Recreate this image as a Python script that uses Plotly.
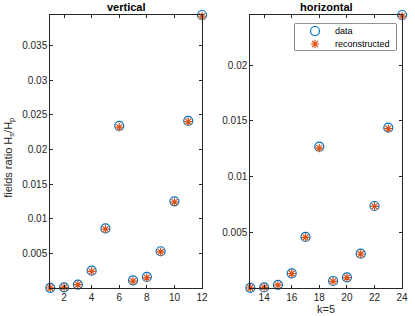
import plotly.graph_objects as go

# data
k_vert = [1, 2, 3, 4, 5, 6, 7, 8, 9, 10, 11, 12]
data_vert = [0.00003, 0.0001, 0.0005, 0.0025, 0.0086, 0.0234, 0.0011, 0.0016, 0.0053, 0.0125, 0.0241, 0.03938]
rec_vert = [0.00003, 0.0001, 0.00048, 0.0024, 0.0085, 0.0232, 0.0010, 0.0015, 0.0052, 0.0124, 0.0240, 0.0392]

k_horz = [13, 14, 15, 16, 17, 18, 19, 20, 21, 22, 23, 24]
data_horz = [0.00002, 0.00005, 0.00028, 0.00132, 0.00458, 0.01268, 0.00063, 0.00096, 0.00308, 0.00736, 0.01439, 0.0245]
rec_horz = [0.00002, 0.00005, 0.00026, 0.0013, 0.00455, 0.01255, 0.0006, 0.00094, 0.00305, 0.00733, 0.01430, 0.0244]

ticks_x_vert = [2, 4, 6, 8, 10, 12]
ticks_x_horz = [14, 16, 18, 20, 22, 24]
ticks_y_vert = [0.005, 0.01, 0.015, 0.02, 0.025, 0.03, 0.035]
ticks_y_horz = [0.005, 0.01, 0.015, 0.02]

legend_names = ["data", "reconstructed"]

BLUE = "#0072BD"
ORANGE = "#D95319"
AX = "#262626"
FONT = "Liberation Sans, Arial, sans-serif"

W, H = 415, 316

CIRCLE = dict(symbol="circle-open", size=9, color=BLUE, line=dict(width=1.2, color=BLUE))
STAR = dict(symbol="asterisk-open", size=7, color=ORANGE, line=dict(width=1.2, color=ORANGE))

fig = go.Figure()

def add(xs, ys, rs, xa, ya):
    fig.add_trace(go.Scatter(x=xs, y=ys, mode="markers", name=legend_names[0], showlegend=False,
                             xaxis=xa, yaxis=ya, cliponaxis=False, marker=CIRCLE))
    fig.add_trace(go.Scatter(x=xs, y=rs, mode="markers", name=legend_names[1], showlegend=False,
                             xaxis=xa, yaxis=ya, cliponaxis=False, marker=STAR))

add(k_vert, data_vert, rec_vert, "x", "y")
add(k_horz, data_horz, rec_horz, "x2", "y2")

# legend box (drawn on its own overlay axes, units = 0..1 within the box)
LX0, LX1, LY0, LY1 = 299, 402, 24, 50
fig.add_trace(go.Scatter(x=[0.2], y=[0.27], mode="markers", marker=CIRCLE, showlegend=False,
                         xaxis="x3", yaxis="y3", hoverinfo="skip", cliponaxis=False))
fig.add_trace(go.Scatter(x=[0.2], y=[0.77], mode="markers", marker=STAR, showlegend=False,
                         xaxis="x3", yaxis="y3", hoverinfo="skip", cliponaxis=False))

x1 = (51 / W, 205 / W)
x2 = (254 / W, 408 / W)
yd = (1 - 288 / H, 1 - 15 / H)

axcommon = dict(showgrid=False, zeroline=False, showline=True, linecolor=AX, linewidth=1,
                mirror="ticks", ticks="inside", ticklen=3, tickcolor=AX, tickwidth=1,
                tickfont=dict(family=FONT, size=10, color=AX))
hidden = dict(visible=False, showgrid=False, zeroline=False, fixedrange=True)

fig.update_layout(
    width=W, height=H, margin=dict(l=0, r=0, t=0, b=0),
    paper_bgcolor="white", plot_bgcolor="white",
    font=dict(family=FONT, size=10, color=AX),
    showlegend=False,
    xaxis=dict(domain=x1, range=[1, 12], tickvals=ticks_x_vert, anchor="y", **axcommon),
    yaxis=dict(domain=yd, range=[0, 0.03938], tickvals=ticks_y_vert, ticktext=[str(v) for v in ticks_y_vert],
               anchor="x", **axcommon),
    xaxis2=dict(domain=x2, range=[13, 24], tickvals=ticks_x_horz, anchor="y2", **axcommon),
    yaxis2=dict(domain=yd, range=[0, 0.0245], tickvals=ticks_y_horz, ticktext=[str(v) for v in ticks_y_horz],
                anchor="x2", **axcommon),
    xaxis3=dict(domain=(LX0 / W, LX1 / W), range=[0, 1], anchor="y3", **hidden),
    yaxis3=dict(domain=(1 - LY1 / H, 1 - LY0 / H), range=[1, 0], anchor="x3", **hidden),
    shapes=[dict(type="rect", xref="paper", yref="paper", x0=LX0 / W, x1=LX1 / W,
                 y0=1 - LY1 / H, y1=1 - LY0 / H, line=dict(color=AX, width=1), fillcolor="white",
                 layer="below")],
    annotations=[
        dict(text="<b>vertical</b>", x=(51 + 205) / 2 / W, y=1 - 7 / H, xref="paper", yref="paper",
             showarrow=False, font=dict(family=FONT, size=11, color="black"), xanchor="center", yanchor="middle"),
        dict(text="<b>horizontal</b>", x=(254 + 408) / 2 / W, y=1 - 7 / H, xref="paper", yref="paper",
             showarrow=False, font=dict(family=FONT, size=11, color="black"), xanchor="center", yanchor="middle"),
        dict(text="k=5", x=(254 + 408) / 2 / W, y=1 - 309 / H, xref="paper", yref="paper",
             showarrow=False, font=dict(family=FONT, size=11, color=AX), xanchor="center", yanchor="middle"),
        dict(text="fields ratio H<sub>s</sub>/H<sub>p</sub>", x=9 / W, y=1 - 158 / H, xref="paper", yref="paper",
             showarrow=False, textangle=-90, font=dict(family=FONT, size=11, color=AX),
             xanchor="center", yanchor="middle"),
        dict(text=legend_names[0], x=0.38, y=0.27, xref="x3", yref="y3", showarrow=False,
             font=dict(family=FONT, size=9, color="black"), xanchor="left", yanchor="middle"),
        dict(text=legend_names[1], x=0.38, y=0.77, xref="x3", yref="y3", showarrow=False,
             font=dict(family=FONT, size=9, color="black"), xanchor="left", yanchor="middle"),
    ],
)

fig.write_html("out.html", config={"displayModeBar": False},
               post_script="document.body.style.margin='0';document.body.style.overflow='hidden';")
